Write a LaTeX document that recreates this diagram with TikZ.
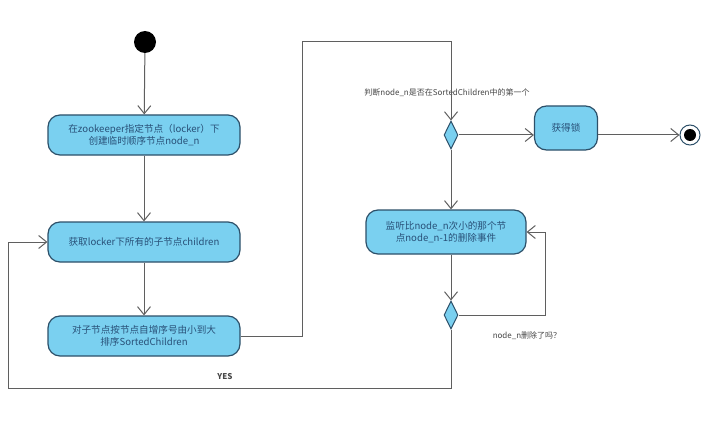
\documentclass[tikz,border=0pt]{standalone}
\usepackage{fontspec}
\setmainfont{Noto Sans CJK SC}
\usetikzlibrary{arrows.meta,shapes.geometric}
\definecolor{actfill}{RGB}{122,208,240}
\definecolor{actline}{RGB}{45,80,105}
\definecolor{acttext}{RGB}{40,80,120}
\definecolor{lineg}{RGB}{95,95,95}
\definecolor{labg}{RGB}{70,70,70}
\tikzset{
  act/.style={draw=actline, line width=1.2pt, fill=actfill, rounded corners=12pt,
    minimum width=192pt, minimum height=40pt, align=center, text=acttext,
    font=\fontsize{9.6}{12.5}\selectfont, inner sep=2pt},
  dec/.style={diamond, draw=actline, line width=1pt, fill=actfill, minimum width=14pt,
    minimum height=28pt, inner sep=0pt},
  arr/.style={draw=lineg, line width=1pt, -{Straight Barb[length=8pt,width=13pt,line width=1pt]}},
  lab/.style={text=labg, font=\fontsize{8}{10}\selectfont, inner sep=0pt}
}
\begin{document}
\begin{tikzpicture}[x=1pt,y=-1pt]
\useasboundingbox[fill=white] (0,0) rectangle (709,425);
\node[circle, fill=black, minimum size=22pt, inner sep=0pt] (start) at (145,42) {};
\node[act] (b1) at (144,135) {在zookeeper指定节点（locker）下\\创建临时顺序节点node\_n};
\node[act] (b2) at (144,242) {获取locker下所有的子节点children};
\node[act] (b3) at (144,336) {对子节点按节点自增序号由小到大\\排序SortedChildren};
\node[dec] (d1) at (451,135) {};
\node[act, minimum width=63pt, minimum height=44pt] (win) at (566,128) {获得锁};
\node[circle, draw=actline, line width=1pt, fill=white, minimum size=20pt, inner sep=0pt] (end) at (690,135) {};
\node[circle, fill=black, minimum size=12pt, inner sep=0pt] (endin) at (690,135) {};
\node[act, minimum width=160pt, minimum height=44pt] (b4) at (446,232) {监听比node\_n次小的那个节\\点node\_n-1的删除事件};
\node[dec] (d2) at (451,315) {};
\node[lab] (l1) at (447,93) {判断node\_n是否在SortedChildren中的第一个};
\node[lab] (l2) at (527,336) {node\_n删除了吗？};
\node[lab, font=\fontsize{8}{10}\selectfont\bfseries] (l3) at (225,377) {YES};
\coordinate (c1) at (302,42);
\coordinate (c2) at (451,42);
\coordinate (c3) at (545,232);
\coordinate (c4) at (451,388);
\coordinate (c5) at (8,388);
\draw[arr] (start) -- (b1);
\draw[arr] (b1) -- (b2);
\draw[arr] (b2) -- (b3);
\draw[arr] (b3.east) -| (c1) -- (c2) -- (d1.north);
\draw[arr] (d1.east) -- (d1.east -| win.west);
\draw[arr] (end -| win.east) -- (end);
\draw[arr] (d1.south) -- (d1.south |- b4.north);
\draw[arr] (d2.north |- b4.south) -- (d2.north);
\draw[arr] (d2.east) -| (c3) -- (b4.east);
\draw[arr] (d2.south) -- (c4) -- (c5) |- (b2.west);
\end{tikzpicture}
\end{document}
